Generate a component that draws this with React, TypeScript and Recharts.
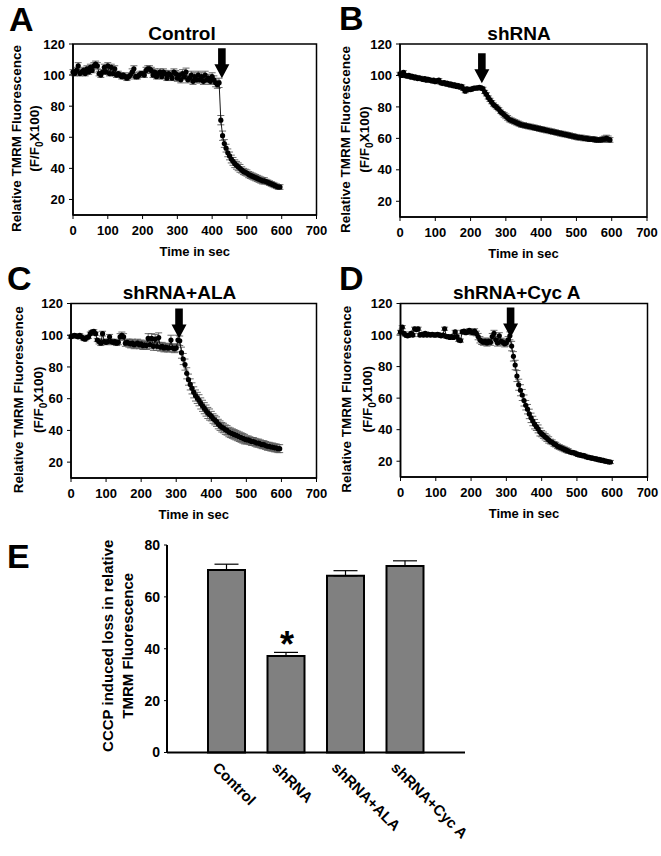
import React from 'react';
import {
  LineChart, Line, XAxis, YAxis, ErrorBar, ReferenceArea, ReferenceDot,
  BarChart, Bar, LabelList,
} from 'recharts';

const FONT = '"Liberation Sans", Arial, Helvetica, sans-serif';

// ---------- time course data (seconds) ----------
const TIME_SEC = [
  0, 5, 10, 15, 20, 25, 30, 35, 40, 45, 50, 55, 60, 65, 70, 75, 80, 85, 90, 95,
  100, 105, 110, 115, 120, 125, 130, 135, 140, 145, 150, 155, 160, 165, 170, 175, 180, 185, 190, 195,
  200, 205, 210, 215, 220, 225, 230, 235, 240, 245, 250, 255, 260, 265, 270, 275, 280, 285, 290, 295,
  300, 305, 310, 315, 320, 325, 330, 335, 340, 345, 350, 355, 360, 365, 370, 375, 380, 385, 390, 395,
  400, 405, 410, 415, 420, 425, 430, 435, 440, 445, 450, 455, 460, 465, 470, 475, 480, 485, 490, 495,
  500, 505, 510, 515, 520, 525, 530, 535, 540, 545, 550, 555, 560, 565, 570, 575, 580, 585, 590, 595,
];

const TMRM_CONTROL = [
  102, 101, 103, 106, 101, 102, 103, 101, 104, 102, 105, 103, 106, 107, 106, 101, 100, 102, 105, 102,
  106, 101, 105, 101, 104, 100, 101, 100, 99, 100, 99, 98, 99, 100, 102, 104, 99, 99, 100, 101,
  101, 100, 103, 104, 104, 103, 100, 102, 99, 101, 102, 99, 102, 101, 98, 101, 100, 98, 102, 101,
  98, 100, 97, 101, 99, 102, 97, 98, 100, 96, 99, 97, 100, 97, 99, 96, 100, 97, 98, 96,
  99, 97, 95, 94, 95, 71, 61, 56, 53, 50, 48, 46, 44.5, 43, 42, 41, 40, 39, 38, 37.5,
  37, 36, 35.5, 35, 34.5, 34, 33.5, 33, 32.5, 32, 32, 31.5, 31, 30.5, 30, 29.5, 29, 28.5, 28, 28,
];
const ERR_CONTROL = [
  1.5, 1.5, 2, 2, 1.5, 1.5, 2, 1.5, 2, 1.5, 2, 1.5, 2, 2, 2, 1.5, 1.5, 1.5, 2, 1.5,
  2, 1.5, 2, 1.5, 2, 1.5, 1.5, 1.5, 1.5, 1.5, 1.5, 1.5, 1.5, 1.5, 2, 2, 1.5, 1.5, 1.5, 1.5,
  1.5, 1.5, 2, 2, 2, 2, 1.5, 2, 1.5, 2, 2, 1.5, 2, 2, 1.5, 2, 2, 1.5, 2, 2,
  2, 2, 2, 2.5, 2, 2.5, 2, 2, 2.5, 2, 2.5, 2, 2.5, 2, 2.5, 2, 2.5, 2, 2.5, 2,
  2.5, 2.5, 2.5, 2.5, 3, 3, 3, 2.5, 2.5, 2.5, 2.5, 2.5, 2.5, 2.5, 2.5, 2.5, 2.5, 2, 2, 2,
  2, 2, 2, 2, 2, 2, 2, 2, 2, 2, 2, 1.5, 1.5, 1.5, 1.5, 1.5, 1.5, 1.5, 1.5, 1.5,
];

const TMRM_SHRNA = [
  101, 100, 102, 100, 99.5, 100, 99, 99.5, 98.5, 99, 98, 98.5, 98, 97.5, 98, 97, 97.5, 97, 96.5, 97,
  96, 96.5, 97, 95.5, 95, 95.5, 94.5, 95, 94, 94.5, 93.5, 94, 93, 93.5, 92.5, 93, 91.5, 90, 91.5, 91,
  91, 91.5, 92, 92, 92, 92.5, 92, 91.5, 89.5, 88, 86, 84.5, 83, 81.5, 80.5, 79.5, 78.5, 77, 76, 75,
  74, 73, 72, 71.5, 71, 70.5, 70, 69.5, 69, 68.5, 68.5, 68, 68, 67.5, 67.5, 67, 67, 66.5, 66.5, 66,
  66, 65.5, 65.5, 65, 65, 64.5, 64.5, 64, 64, 63.5, 63.5, 63, 63, 62.5, 62.5, 62, 62, 61.5, 61.5, 61,
  61, 60.5, 60.5, 60.5, 60, 60, 60, 59.5, 59.5, 59.5, 59.5, 59, 59, 59, 59, 59.5, 59.5, 60, 59.5, 59,
];
const ERR_SHRNA = [
  1, 1, 1, 1, 1, 1, 1, 1, 1, 1, 1, 1, 1, 1, 1, 1, 1, 1, 1, 1,
  1, 1, 1, 1, 1, 1, 1, 1, 1, 1, 1, 1, 1, 1, 1, 1, 1, 1, 1, 1,
  1, 1, 1, 1, 1, 1, 1, 1, 1, 1, 1, 1, 1, 1, 1, 1, 1, 1, 1, 1.5,
  1.5, 1.5, 1.5, 1.5, 1.5, 1.5, 1.5, 1.5, 1.5, 1.5, 1.5, 1.5, 1.5, 1.5, 1.5, 1.5, 1.5, 1.5, 1.5, 1.5,
  1.5, 1.5, 1.5, 1.5, 1.5, 1.5, 1.5, 1.5, 1.5, 1.5, 1.5, 1.5, 1.5, 1.5, 1.5, 1.5, 1.5, 1.5, 1.5, 1.5,
  1.5, 1.5, 1.5, 1.5, 1.5, 1.5, 1.5, 1.5, 1.5, 1.5, 1.5, 1.5, 1.5, 1.5, 1.5, 1.5, 2, 2, 2, 1.5,
];

const TMRM_ALA = [
  99, 99.5, 100, 99.5, 99, 100, 99, 98, 97.5, 98.5, 99, 101, 102, 102.5, 101, 97, 96, 95, 101, 96,
  95.5, 96, 99, 96, 95.5, 96, 95, 95.5, 99, 100, 99, 95, 95.5, 95, 94.5, 95, 94, 94.5, 95, 94,
  94.5, 93.5, 94, 93.5, 98, 94, 98, 93, 97.5, 93, 98.5, 92.5, 93, 92, 92.5, 92, 92, 97, 92, 91.5,
  92, 97, 96.5, 89, 85, 81.5, 76, 72, 69, 66.5, 64, 62, 60.5, 59, 57, 55.5, 54, 52.5, 51, 50,
  49, 47.5, 46.5, 45.5, 44, 43, 42, 41.5, 40.5, 40, 39, 38.5, 38, 37.5, 37, 36.5, 36, 35.5, 35, 34.5,
  34, 34, 33.5, 33, 33, 32.5, 32, 32, 31.5, 31, 31, 30.5, 30, 30, 29.5, 29.5, 29, 29, 28.5, 28.5,
];
const ERR_ALA = [
  1, 1, 1, 1, 1, 1, 1, 1, 1, 1, 1, 1, 1, 1, 1, 1, 1.5, 1.5, 1.5, 1.5,
  1.5, 1.5, 1.5, 1.5, 1.5, 1.5, 1.5, 1.5, 2, 2, 2, 2, 2, 2.5, 2.5, 2.5, 2.5, 2.5, 2.5, 2.5,
  2.5, 2.5, 2.5, 2.5, 3, 2.5, 3, 2.5, 3, 2.5, 3, 2.5, 2.5, 2.5, 2.5, 2.5, 2.5, 3, 2.5, 2.5,
  2.5, 3, 3, 3.5, 3.5, 3.5, 3.5, 3.5, 3.5, 3.5, 3.5, 3.5, 3.5, 3.5, 3.5, 3.5, 3.5, 3.5, 3.5, 3.5,
  3, 3, 3, 3, 3, 3, 3, 3, 3, 3, 3, 3, 3, 3, 3, 3, 3, 3, 3, 3,
  2.5, 2.5, 2.5, 2.5, 2.5, 2.5, 2.5, 2.5, 2.5, 2.5, 2.5, 2.5, 2.5, 2.5, 2.5, 2.5, 2.5, 2.5, 2.5, 2.5,
];

const TMRM_CYCA = [
  102, 105, 101, 100, 99.5, 100, 101, 100, 104, 103.5, 104, 100, 100.5, 100, 101, 100, 100.5, 100, 100.5, 100,
  100, 100.5, 100, 99.5, 100, 104, 99, 99, 98.5, 99, 98.5, 102, 99, 97, 96.5, 102, 102.5, 101.5, 102, 103,
  102, 101.5, 102.5, 101, 99, 97, 96, 95.5, 96, 95, 96, 95.5, 99, 101, 97, 95, 99.5, 96, 95.5, 94.5,
  95, 97, 99.5, 93, 86.5, 81, 74, 68.5, 65, 62, 58.5, 55.5, 53, 50, 47.5, 45.5, 43.5, 42, 40.5, 38.5,
  37.5, 36.5, 35.5, 34.5, 33.5, 32.5, 32, 31, 30.5, 29.5, 29, 28.5, 28, 27.5, 27, 26.5, 26, 25.5, 25.5, 25,
  24.5, 24, 24, 23.5, 23.5, 23, 22.5, 22.5, 22, 22, 21.5, 21.5, 21, 21, 20.5, 20.5, 20, 20, 19.5, 19.5,
];
const ERR_CYCA = [
  1, 1, 1, 1, 1, 1, 1, 1, 1, 1, 1, 1, 1, 1, 1, 1, 1, 1, 1, 1,
  1, 1, 1, 1, 1, 1, 1, 1, 1, 1, 1, 1, 1, 1, 1, 1, 1, 1, 1, 1,
  1.5, 1.5, 1.5, 1.5, 2, 2, 2, 2, 2, 2, 2, 2, 2, 2, 2, 2, 2, 2, 2, 2,
  2, 2, 2.5, 3, 3, 3, 3.5, 3.5, 3.5, 3.5, 3.5, 3, 3, 3, 3, 3, 3, 2.5, 2.5, 2.5,
  2, 2, 2, 2, 2, 1.5, 1.5, 1.5, 1.5, 1.5, 1.5, 1.5, 1.5, 1.5, 1.5, 1.5, 1, 1, 1, 1,
  1, 1, 1, 1, 1, 1, 1, 1, 1, 1, 1, 1, 1, 1, 1, 1, 1, 1, 1, 1,
];

// time of CCCP addition (arrow) and the trace value at the arrow tip
const CCCP_TIME = [428, 232, 308, 312];
const CCCP_TIP = [98, 95, 98, 98.5];

const X_TICKS = [0, 100, 200, 300, 400, 500, 600, 700];
const Y_TICKS = [20, 40, 60, 80, 100, 120];

// ---------- bar chart data ----------
const GROUPS = ['Control', 'shRNA', 'shRNA+ALA', 'shRNA+Cyc A'];
const LOSS = [70.4, 37.2, 68.1, 71.9];
const LOSS_SEM = [2.2, 1.4, 2.0, 2.0];
const SIGNIF = ['', '*', '', ''];
const E_TICKS = [0, 20, 40, 60, 80];

// ---------- layout ----------
const PANELS = [
  { title: 'Control', values: TMRM_CONTROL, errors: ERR_CONTROL, box: { L: 0, T: 0, W: 330, H: 260 }, plot: { left: 73, right: 316.5, top: 44, bottom: 215 }, yOff: [-52, -34], titleX: 182, titleY: 40 },
  { title: 'shRNA', values: TMRM_SHRNA, errors: ERR_SHRNA, box: { L: 330, T: 0, W: 331, H: 260 }, plot: { left: 400, right: 647, top: 44, bottom: 217 }, yOff: [-50, -31], titleX: 519, titleY: 40 },
  { title: 'shRNA+ALA', values: TMRM_ALA, errors: ERR_ALA, box: { L: 0, T: 260, W: 330, H: 270 }, plot: { left: 71, right: 316.5, top: 303.5, bottom: 478 }, yOff: [-48, -28], titleX: 179.5, titleY: 299 },
  { title: 'shRNA+Cyc A', values: TMRM_CYCA, errors: ERR_CYCA, box: { L: 330, T: 260, W: 331, H: 270 }, plot: { left: 400.5, right: 647.5, top: 303.5, bottom: 477 }, yOff: [-49.5, -28.5], titleX: 516.7, titleY: 299 },
];

const LETTERS = [
  { t: 'A', x: 9, y: 31 },
  { t: 'B', x: 339, y: 30 },
  { t: 'C', x: 7, y: 290 },
  { t: 'D', x: 339, y: 290 },
  { t: 'E', x: 7, y: 568 },
];

const tickStyle = { fill: '#000', fontSize: 13, fontWeight: 'bold' as const, fontFamily: FONT };

const ArrowShape = (props: any) => {
  const { cx, cy } = props;
  if (cx == null || cy == null) return null;
  const sw = 3.8, hw = 7.5, hh = 14, total = 30;
  const pts = [
    [cx - sw, cy - total], [cx + sw, cy - total], [cx + sw, cy - hh], [cx + hw, cy - hh],
    [cx, cy], [cx - hw, cy - hh], [cx - sw, cy - hh],
  ].map((p) => p.join(',')).join(' ');
  return <polygon points={pts} fill="#000" />;
};

const TraceYTitle = (props: any) => {
  const { viewBox, off1, off2 } = props;
  if (!viewBox) return null;
  const plotLeft = viewBox.x + viewBox.width;
  const cy = viewBox.y + viewBox.height / 2 + 9;
  const x1 = plotLeft + off1;
  const x2 = plotLeft + off2;
  const common = { textAnchor: 'middle' as const, fontFamily: FONT, fontWeight: 'bold' as const, fontSize: 13.5, fill: '#000' };
  return (
    <g>
      <text x={x1} y={cy} transform={`rotate(-90 ${x1} ${cy})`} {...common}>Relative TMRM Fluorescence</text>
      <text x={x2} y={cy} transform={`rotate(-90 ${x2} ${cy})`} {...common}>
        (F/F<tspan dy={4} fontSize={10}>0</tspan><tspan dy={-4}>X100)</tspan>
      </text>
    </g>
  );
};

const TraceXTitle = (props: any) => {
  const { viewBox } = props;
  if (!viewBox) return null;
  return (
    <text x={viewBox.x + viewBox.width / 2} y={viewBox.y + 41} textAnchor="middle" fontFamily={FONT} fontWeight="bold" fontSize={13} fill="#000">
      Time in sec
    </text>
  );
};

const TracePanel = ({ cfg, idx }: any) => {
  const { box, plot, values, errors, yOff } = cfg;
  const data = TIME_SEC.map((t, i) => ({ t, v: values[i], e: errors[i] }));
  const xAxisH = box.T + box.H - plot.bottom;
  const margin = { top: plot.top - box.T, right: box.L + box.W - plot.right, left: plot.left - box.L - 40, bottom: 0 };
  return (
    <div style={{ position: 'absolute', left: box.L, top: box.T, width: box.W, height: box.H }}>
      <LineChart width={box.W} height={box.H} data={data} margin={margin}>
        <XAxis
          dataKey="t" type="number" domain={[0, 700]} ticks={X_TICKS} interval={0}
          height={xAxisH} tick={tickStyle} tickSize={4} tickMargin={7}
          axisLine={{ stroke: '#000', strokeWidth: 1.5 }} tickLine={{ stroke: '#000' }}
          label={<TraceXTitle />}
        />
        <YAxis
          type="number" domain={[10, 120]} ticks={Y_TICKS} interval={0} width={40}
          tick={tickStyle} tickSize={4} tickMargin={4}
          axisLine={{ stroke: '#000', strokeWidth: 1.5 }} tickLine={{ stroke: '#000' }}
          label={<TraceYTitle off1={yOff[0]} off2={yOff[1]} />}
        />
        <ReferenceArea x1={0} x2={700} y1={10} y2={120} fill="none" stroke="#000" strokeWidth={1.5} />
        <Line
          dataKey="v" type="linear" stroke="#000" strokeWidth={0.9}
          dot={{ r: 2.6, fill: '#000', stroke: 'none' }} activeDot={false}
          isAnimationActive={false}
        >
          <ErrorBar dataKey="e" width={3.5} stroke="#5a5a5a" strokeWidth={0.9} direction="y" />
        </Line>
        <ReferenceDot x={CCCP_TIME[idx]} y={CCCP_TIP[idx]} r={0} shape={<ArrowShape />} />
      </LineChart>
    </div>
  );
};

const CatTick = (props: any) => {
  const { x, y, payload } = props;
  const ax = x - 15;
  const ay = y + 16;
  return (
    <text x={ax} y={ay} transform={`rotate(45 ${ax} ${ay})`} textAnchor="start" fontFamily={FONT} fontWeight="bold" fontSize={15} fill="#000">
      {payload.value}
    </text>
  );
};

const EYTitle = (props: any) => {
  const { viewBox } = props;
  if (!viewBox) return null;
  const plotLeft = viewBox.x + viewBox.width;
  const cy = viewBox.y + viewBox.height / 2 - 3;
  const x1 = plotLeft - 54;
  const x2 = plotLeft - 34;
  const common = { textAnchor: 'middle' as const, fontFamily: FONT, fontWeight: 'bold' as const, fontSize: 15, fill: '#000' };
  return (
    <g>
      <text x={x1} y={cy} transform={`rotate(-90 ${x1} ${cy})`} {...common}>CCCP induced loss in relative</text>
      <text x={x2} y={cy} transform={`rotate(-90 ${x2} ${cy})`} {...common}>TMRM Fluorescence</text>
    </g>
  );
};

const Star = (props: any) => {
  const vb = props.viewBox || props;
  const value = props.value;
  if (!value || !vb) return null;
  return (
    <text x={vb.x + vb.width / 2 + 1} y={vb.y + 1} textAnchor="middle" fontFamily={FONT} fontWeight="bold" fontSize={36} fill="#000">
      {value}
    </text>
  );
};

const BarPanel = () => {
  const data = GROUPS.map((name, i) => ({ name, loss: LOSS[i], sem: [0, LOSS_SEM[i]], sig: SIGNIF[i] }));
  const box = { L: 60, T: 530, W: 420, H: 326 };
  return (
    <div style={{ position: 'absolute', left: box.L, top: box.T, width: box.W, height: box.H }}>
      <BarChart width={box.W} height={box.H} data={data} margin={{ top: 15, right: 15, left: 67, bottom: 0 }}>
        <XAxis
          dataKey="name" padding={{ left: 30, right: 30 }} height={103.5} interval={0}
          tick={<CatTick />} tickLine={false} tickSize={0} tickMargin={0}
          axisLine={{ stroke: '#000', strokeWidth: 2 }}
        />
        <XAxis xAxisId="top" orientation="top" dataKey="name" height={0} tick={false} tickLine={false} axisLine={{ stroke: '#000', strokeWidth: 2 }} />
        <YAxis
          type="number" domain={[0, 80]} ticks={E_TICKS} interval={0} width={40}
          tick={{ ...tickStyle, fontSize: 14 }} tickSize={3} tickMargin={4}
          axisLine={{ stroke: '#000', strokeWidth: 2 }} tickLine={{ stroke: '#000' }}
          label={<EYTitle />}
        />
        <YAxis yAxisId="right" orientation="right" type="number" domain={[0, 80]} width={0} tick={false} tickLine={false} axisLine={{ stroke: '#000', strokeWidth: 2 }} />
        <Bar dataKey="loss" fill="#808080" stroke="#000" strokeWidth={2} barSize={37} isAnimationActive={false}>
          <ErrorBar dataKey="sem" width={12} stroke="#000" strokeWidth={1.2} direction="y" />
          <LabelList dataKey="sig" content={<Star />} />
        </Bar>
      </BarChart>
    </div>
  );
};

export default function App() {
  return (
    <div style={{ position: 'absolute', left: 0, top: 0, width: 661, height: 856, background: '#fff', fontFamily: FONT }}>
      {PANELS.map((p, i) => <TracePanel key={p.title} cfg={p} idx={i} />)}
      <BarPanel />
      <svg width={661} height={856} style={{ position: 'absolute', left: 0, top: 0, pointerEvents: 'none' }}>
        {PANELS.map((p) => (
          <text key={p.title} x={p.titleX} y={p.titleY} textAnchor="middle" fontFamily={FONT} fontWeight="bold" fontSize={19} fill="#000">{p.title}</text>
        ))}
        {LETTERS.map((l) => (
          <text key={l.t} x={l.x} y={l.y} fontFamily={FONT} fontWeight="bold" fontSize={34} fill="#000">{l.t}</text>
        ))}
      </svg>
    </div>
  );
}
